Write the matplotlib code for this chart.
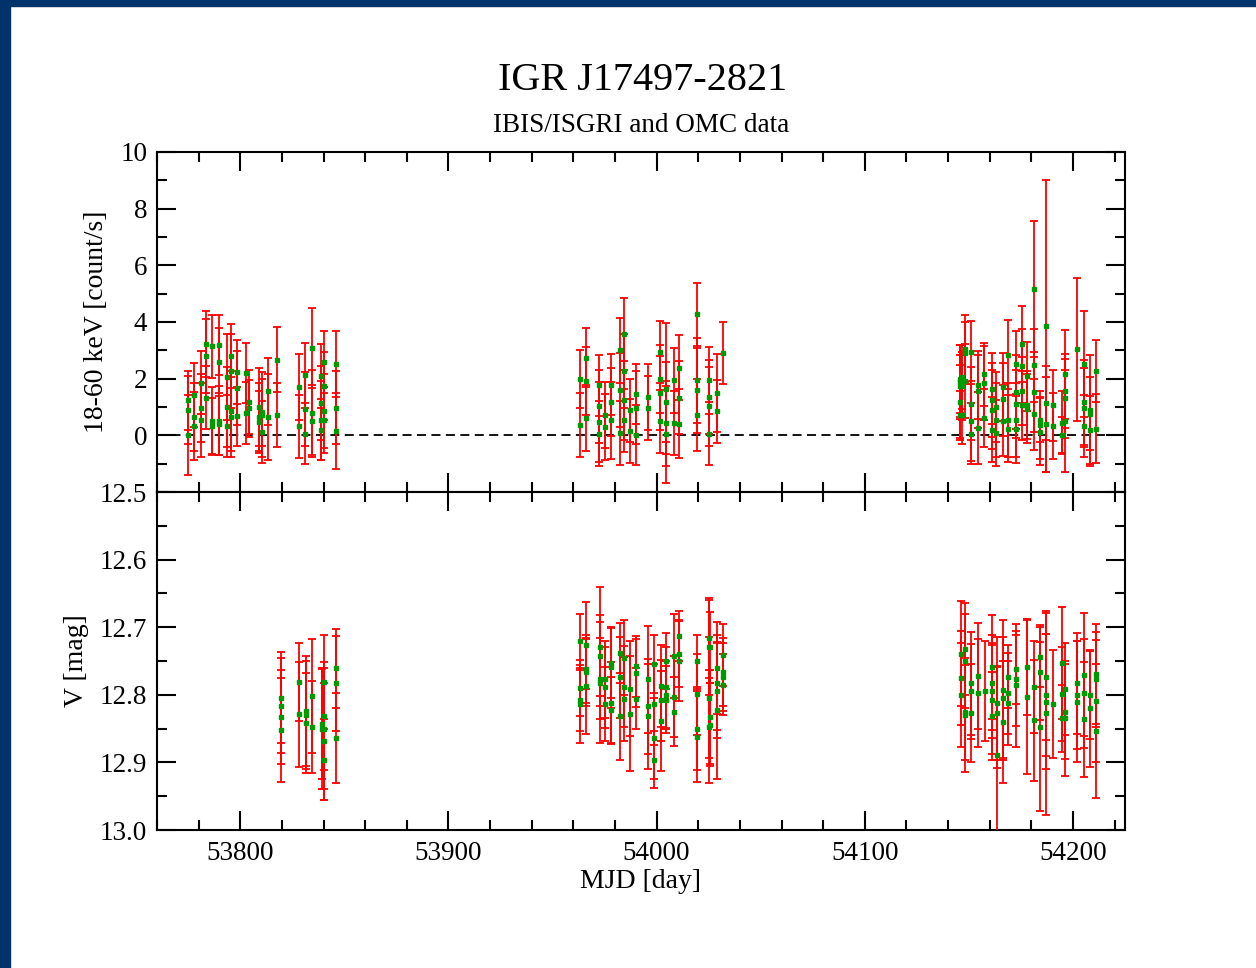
import numpy as np
import matplotlib
matplotlib.use('Agg')
import matplotlib.pyplot as plt
from matplotlib.patches import Rectangle
from matplotlib.ticker import MultipleLocator, FormatStrFormatter

plt.rcParams['font.family'] = ['Liberation Serif', 'DejaVu Serif']

# IBIS/ISGRI 18-60 keV light curve: one entry per epoch, several pointings each
isgri_mjd = [53775, 53778, 53781, 53783.5, 53786.6, 53790, 53793.5, 53795.5, 53798.5,
             53802.6, 53804.3, 53809, 53810.4, 53813.4, 53817.5, 53828.3, 53831, 53834.6,
             53839, 53840.3, 53845.8,
             53963.1, 53966, 53972.4, 53975.1, 53977.9, 53982.3, 53984.2, 53987.1, 53990.3,
             53995.9, 54001.5, 54004.4, 54008.3, 54010.8, 54019.6, 54025, 54028.8, 54032,
             54145.9, 54146.9, 54148.3, 54150.9, 54154.4, 54157.3, 54161.1, 54163.2, 54166.4,
             54168.8, 54172.5, 54175.5, 54177.9, 54181.3, 54184.3, 54187.2, 54190.4, 54194.9,
             54196, 54202, 54205.1, 54208.4, 54211.2]
isgri_rate = [[1.23, 0.88, 0.02], [1.43, 0.65, 0.33], [1.85, 0.96, 0.53], [3.23, 2.79, 1.33],
              [3.14, 0.51, 0.33], [3.2, 2.59, 0.51, 0.39], [2.06, 1.0, 0.32], [2.79, 2.27, 0.86, 0.65],
              [2.23, 1.68, 0.67], [2.2, 0.79], [1.18, 0.95], [1.0, 0.65, 0.47], [0.82, 0.73, 0.12],
              [1.56, 0.65], [2.67, 0.71], [1.71, 0.32], [2.12, 0.94, 0.06], [3.08, 0.79, 0.51],
              [2.08, 1.14, 0.53, 0.2], [2.59, 1.73, 0.86, 0.55], [2.51, 0.98, 0.15],
              [1.99, 0.36], [2.74, 1.92, 0.61], [1.76, 1.02, 0.47, 0.06], [0.71, 0.29],
              [1.79, 1.18, 0.53], [3.0, 1.59, 0.08], [3.59, 2.27, 1.24, 0.53], [0.88, 0.15],
              [1.47, 0.98, 0.02], [1.35, 0.96], [2.94, 1.98, 1.49, 0.49], [1.65, 1.18, 0.43, 0.03],
              [1.94, 0.43], [2.39, 1.33, 0.41], [4.27, 1.94, 1.59, 0.71], [1.94, 1.35, 1.02, 0.06],
              [1.49, 0.85], [2.9],
              [2.0, 1.88, 1.73, 1.19, 0.7], [2.06, 1.75, 0.7], [3.06, 2.91, 1.92],
              [2.93, 1.12, 0.5, 0.06], [1.77, 1.55, 0.26], [2.15, 1.85, 0.62], [1.65, 1.24, 0.91, 0.2],
              [1.0, 0.53, 0.08], [1.71, 1.27, 0.51], [2.85, 0.53, 0.24], [2.53, 1.53, 1.12, 0.53, 0.24],
              [3.21, 2.45, 1.55, 1.06], [2.08, 1.06, 0.94], [5.15, 2.47, 1.53, 0.74], [0.55, 0.38, 0.12],
              [3.86, 1.14, 0.39], [1.06, 0.33], [0.44, 0.02], [2.15, 1.57, 1.31, 0.5], [3.03],
              [2.51, 1.17, 0.98, 0.33], [0.88, 0.77, 0.2], [2.27, 0.24]]
isgri_err = [[1.04, 1.2, 1.41], [1.12, 1.2, 1.19], [1.11, 1.2, 1.3], [1.16, 1.3, 1.1],
             [1.12, 1.19, 1.0], [1.06, 1.2, 1.22, 1.1], [1.53, 1.4, 1.09], [1.13, 1.3, 1.4, 1.42],
             [1.12, 1.3, 1.05], [1.07, 1.08], [1.14, 1.0], [1.39, 1.2, 1.09], [1.18, 1.5, 1.1],
             [1.18, 1.53], [1.15, 1.12], [1.17, 1.11], [1.15, 1.3, 1.08], [1.41, 1.5, 1.28],
             [1.13, 1.3, 1.4, 1.08], [1.09, 1.2, 1.3, 1.17], [1.16, 1.3, 1.35],
             [1.01, 1.13], [1.05, 1.2, 1.18], [1.08, 1.3, 1.4, 1.14], [1.17, 1.17],
             [1.07, 1.2, 1.35], [1.14, 1.3, 1.14], [1.27, 1.3, 1.4, 1.12], [1.12, 1.13],
             [1.06, 1.3, 1.06], [1.16, 1.14], [1.09, 1.2, 1.3, 1.11], [2.31, 1.4, 1.5, 1.7],
             [1.14, 1.14], [1.16, 1.3, 1.21], [1.12, 1.5, 1.5, 1.28], [1.18, 1.3, 1.4, 1.12],
             [1.37, 1.12], [1.09],
             [1.2, 1.3, 1.1, 1.3, 0.85], [1.14, 1.2, 1.0], [1.18, 1.1, 1.3],
             [1.11, 1.3, 1.4, 1.08], [1.2, 1.3, 1.28], [1.11, 1.3, 1.03], [1.26, 1.3, 1.4, 1.15],
             [1.24, 1.3, 1.17], [1.2, 1.3, 1.25], [1.21, 1.3, 1.18], [1.14, 1.3, 1.2, 1.3, 1.22],
             [1.34, 1.3, 1.2, 1.21], [1.22, 1.2, 1.21], [2.4, 1.3, 1.4, 1.25], [0.8, 1.2, 1.18],
             [5.14, 1.3, 1.68], [1.26, 1.15], [1.11, 0.64], [1.58, 1.3, 1.4, 1.79], [2.54],
             [1.88, 1.5, 1.4, 1.09], [1.97, 1.3, 1.2], [1.08, 1.22]]

# OMC V-band light curve
omc_mjd = [53819.4, 53828.3, 53831.4, 53834.3, 53839.2, 53840.3, 53846,
           53963.1, 53966, 53972.7, 53975.1, 53978, 53982.3, 53984.2, 53987.1, 53990.3,
           53995.9, 53998.8, 54001.9, 54004.4, 54008.3, 54010.8, 54019.6, 54025, 54025.8,
           54028.8, 54032,
           54146.4, 54148.3, 54150.9, 54154.4, 54157.6, 54161.1, 54163.5, 54166.4, 54168.8,
           54172.8, 54177.9, 54181.3, 54184.3, 54187.2, 54190.4, 54194.9, 54196, 54202,
           54205.1, 54208.4, 54211.2]
omc_vmag = [[12.804, 12.816, 12.833, 12.852], [12.781, 12.829], [12.824, 12.83, 12.842],
            [12.802, 12.848], [12.843, 12.85], [12.781, 12.831, 12.85, 12.869, 12.896],
            [12.761, 12.783, 12.864],
            [12.72, 12.79, 12.808, 12.814], [12.727, 12.762, 12.767, 12.787],
            [12.729, 12.742, 12.776, 12.782], [12.777, 12.789, 12.814],
            [12.753, 12.759, 12.812, 12.823], [12.738, 12.774, 12.832], [12.745, 12.788, 12.806],
            [12.791, 12.828], [12.758, 12.768, 12.806], [12.777, 12.817, 12.832],
            [12.754, 12.814, 12.864, 12.896], [12.787, 12.808, 12.839], [12.75, 12.789, 12.8, 12.807],
            [12.743, 12.803, 12.825], [12.713, 12.739, 12.75], [12.75, 12.799, 12.851, 12.862],
            [12.716, 12.73, 12.804, 12.847], [12.73, 12.833, 12.844],
            [12.761, 12.782, 12.794, 12.823], [12.741, 12.766, 12.774, 12.785],
            [12.739, 12.775, 12.8], [12.732, 12.75, 12.826, 12.83], [12.783, 12.795, 12.827],
            [12.772, 12.797], [12.795], [12.759, 12.782, 12.794, 12.807, 12.832],
            [12.812, 12.827, 12.889], [12.793, 12.804, 12.84], [12.773, 12.798, 12.812],
            [12.762, 12.776, 12.786], [12.759, 12.803], [12.789, 12.838], [12.744, 12.767, 12.847],
            [12.773, 12.8, 12.81, 12.827], [12.814], [12.753, 12.799, 12.835],
            [12.791, 12.825, 12.835], [12.783, 12.8, 12.81], [12.77, 12.798, 12.836],
            [12.8, 12.82], [12.769, 12.777, 12.809, 12.854]]
omc_err = [[0.068, 0.07, 0.07, 0.077], [0.058, 0.078], [0.081, 0.08, 0.074],
           [0.084, 0.068], [0.081, 0.089], [0.069, 0.08, 0.09, 0.087, 0.06],
           [0.059, 0.07, 0.066],
           [0.04, 0.041, 0.045, 0.058], [0.064, 0.05, 0.05, 0.071],
           [0.088, 0.06, 0.06, 0.09], [0.057, 0.06, 0.055],
           [0.052, 0.06, 0.06, 0.05], [0.044, 0.06, 0.064], [0.055, 0.06, 0.062],
           [0.07, 0.085], [0.045, 0.05, 0.045], [0.079, 0.07, 0.078],
           [0.043, 0.06, 0.06, 0.042], [0.06, 0.06, 0.074], [0.042, 0.06, 0.05, 0.049],
           [0.062, 0.06, 0.051], [0.037, 0.05, 0.059], [0.038, 0.06, 0.06, 0.067],
           [0.059, 0.07, 0.09, 0.084], [0.053, 0.07, 0.062],
           [0.068, 0.07, 0.07, 0.101], [0.046, 0.05, 0.05, 0.045],
           [0.078, 0.07, 0.077], [0.068, 0.07, 0.07, 0.084], [0.076, 0.07, 0.073],
           [0.078, 0.08], [0.074], [0.077, 0.07, 0.07, 0.08, 0.065],
           [0.097, 0.07, 0.13], [0.103, 0.09, 0.09], [0.046, 0.06, 0.062],
           [0.051, 0.07, 0.091], [0.071, 0.114], [0.068, 0.089], [0.045, 0.07, 0.125],
           [0.094, 0.09, 0.1, 0.151], [0.08], [0.083, 0.07, 0.049],
           [0.068, 0.07, 0.085], [0.075, 0.08, 0.09], [0.091, 0.08, 0.085],
           [0.065, 0.087], [0.074, 0.07, 0.09, 0.099]]


def expand(mjd, vals, errs):
    x, y, e = [], [], []
    for t, vv, ee in zip(mjd, vals, errs):
        for v, s in zip(vv, ee):
            x.append(t)
            y.append(v)
            e.append(s)
    return np.array(x), np.array(y), np.array(e)


hx, hy, he = expand(isgri_mjd, isgri_rate, isgri_err)
ox, oy, oe = expand(omc_mjd, omc_vmag, omc_err)

fig = plt.figure(figsize=(12.56, 9.68), dpi=100)

# dark blue frame on the top and left edges
fig.patches.append(Rectangle((0, 1 - 6 / 968), 1, 6 / 968, transform=fig.transFigure,
                             color='#00336a', zorder=0))
fig.patches.append(Rectangle((0, 0), 10 / 1256, 1, transform=fig.transFigure,
                             color='#00336a', zorder=0))

left, width = 157 / 1256, (1125 - 157) / 1256
ax1 = fig.add_axes([left, 1 - 492 / 968, width, 340 / 968])
ax2 = fig.add_axes([left, 1 - 830 / 968, width, 338 / 968], sharex=ax1)

red = '#ff0000'
green = '#009a00'
ebkw = dict(fmt='s', ms=2.2, mfc=green, mec=green, ecolor=red, elinewidth=1.3,
            capsize=2.6, capthick=1.3, zorder=3)

ax1.axhline(0, color='black', lw=1.3, ls=(0, (5, 3)), zorder=2)
ax1.errorbar(hx, hy, yerr=he, **ebkw)
ax2.errorbar(ox, oy, yerr=oe, **ebkw)

ax1.set_xlim(53760, 54225)
ax1.set_ylim(-2, 10)
ax2.set_ylim(13.0, 12.5)

ax1.set_yticks([0, 2, 4, 6, 8, 10])
ax1.yaxis.set_minor_locator(MultipleLocator(1))
ax2.yaxis.set_major_locator(MultipleLocator(0.1))
ax2.yaxis.set_minor_locator(MultipleLocator(0.05))
ax2.yaxis.set_major_formatter(FormatStrFormatter('%.1f'))
ax1.xaxis.set_major_locator(MultipleLocator(100))
ax1.xaxis.set_minor_locator(MultipleLocator(20))

for ax in (ax1, ax2):
    for sp in ax.spines.values():
        sp.set_linewidth(1.5)
    ax.tick_params(which='both', direction='in', top=True, right=True, width=1.5,
                   labelsize=19.5, pad=7)
    ax.tick_params(which='major', length=14)
    ax.tick_params(which='minor', length=7)
ax1.tick_params(axis='x', labelbottom=False)
ax2.tick_params(axis='x', pad=8)

ax1.set_ylabel('18-60 keV [count/s]', fontsize=20, labelpad=8)
ax2.set_ylabel('V [mag]', fontsize=20, labelpad=8)
ax2.set_xlabel('MJD [day]', fontsize=20, labelpad=2)

fig.text(643 / 1256, 1 - 80 / 968, 'IGR J17497-2821', fontsize=29, ha='center', va='center')
fig.text(641 / 1256, 1 - 125 / 968, 'IBIS/ISGRI and OMC data', fontsize=19.5,
         ha='center', va='center')

fig.savefig('out.png', dpi=100)
